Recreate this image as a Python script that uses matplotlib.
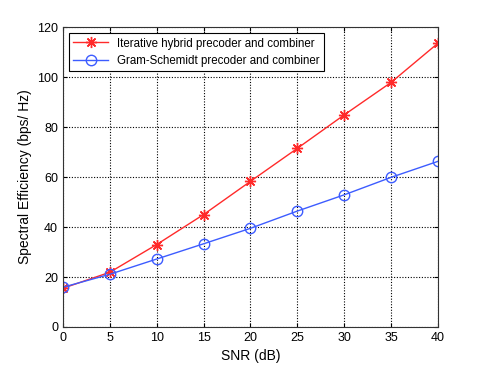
import numpy as np
import matplotlib
matplotlib.use('Agg')
import matplotlib.pyplot as plt

plt.rcParams['font.family'] = ['Liberation Sans', 'DejaVu Sans']

snr = [0, 5, 10, 15, 20, 25, 30, 35, 40]
iterative = [15.5, 21.9, 33.0, 45.0, 58.3, 71.5, 84.9, 97.9, 113.6]
gram_schmidt = [15.9, 21.1, 27.2, 33.3, 39.5, 46.4, 52.9, 59.9, 66.3]
xticks = [0, 5, 10, 15, 20, 25, 30, 35, 40]
yticks = [0, 20, 40, 60, 80, 100, 120]

fig = plt.figure(figsize=(4.84, 3.67), dpi=100)
ax = fig.add_axes([0.130, 0.109, 0.775, 0.817])

ax.plot(snr, iterative, color='#ff2a2a', marker=(8, 2, 0), markersize=8, lw=1,
        markeredgewidth=1, label='Iterative hybrid precoder and combiner')
ax.plot(snr, gram_schmidt, color='#3d5cff', marker='o', markersize=7.5, lw=1,
        markerfacecolor='none', label='Gram-Schemidt precoder and combiner')

ax.set_xlim(0, 40)
ax.set_ylim(0, 120)
ax.set_xticks(xticks)
ax.set_yticks(yticks)
ax.tick_params(direction='in', labelsize=9, length=3, top=True, right=True)
ax.grid(True, color='black', linestyle=(0, (1, 1.5)), linewidth=0.8)
for s in ax.spines.values():
    s.set_color('#333333')
ax.set_xlabel('SNR (dB)', fontsize=10)
ax.set_ylabel('Spectral Efficiency (bps/ Hz)', fontsize=10)

leg = ax.legend(loc='upper left', fontsize=8.3, fancybox=False, framealpha=1,
                edgecolor='black', borderaxespad=0.5, handlelength=3.0,
                labelspacing=0.45)
leg.get_frame().set_linewidth(0.8)

fig.savefig('out.png', dpi=100)
